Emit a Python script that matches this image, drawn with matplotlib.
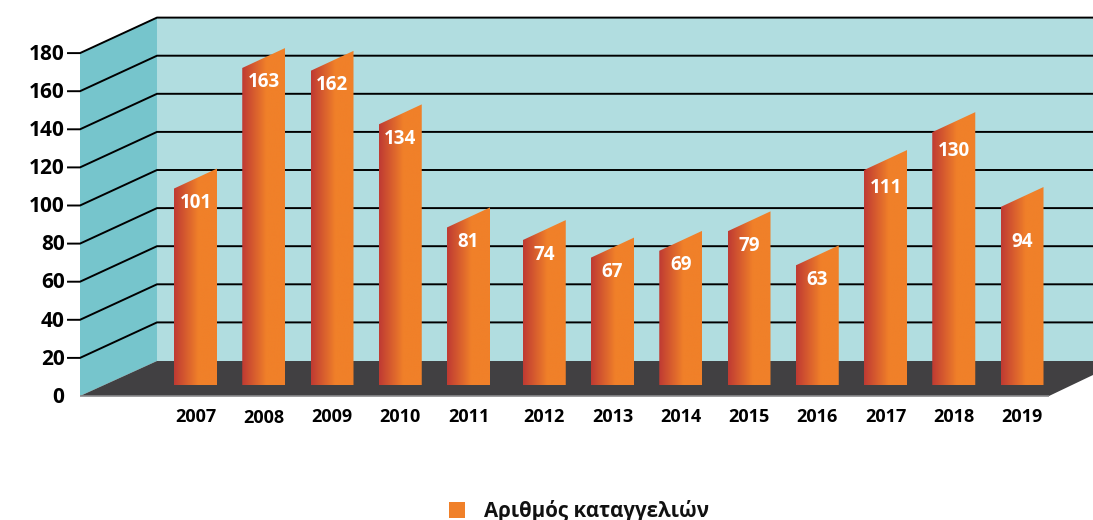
import numpy as np
import matplotlib
matplotlib.use('Agg')
import matplotlib.pyplot as plt
from matplotlib.patches import Polygon, Rectangle

years = ['2007', '2008', '2009', '2010', '2011', '2012', '2013', '2014', '2015', '2016', '2017', '2018', '2019']
complaints = [101, 163, 162, 134, 81, 74, 67, 69, 79, 63, 111, 130, 94]
# height the bars are really drawn at, a bit off from their labels in places
drawn_heights = [101, 163, 161.5, 134, 81, 74.5, 65.5, 69, 79, 61.5, 110.5, 130, 91.5]
y_ticks = [0, 20, 40, 60, 80, 100, 120, 140, 160, 180]
legend_label = 'Αριθμός καταγγελιών'

plt.rcParams['font.family'] = ['Open Sans', 'DejaVu Sans']
W, H = 1093, 520
fig = plt.figure(figsize=(W / 100, H / 100), dpi=100)

# background box, in pixels of the picture
bg = fig.add_axes([0, 0, 1, 1])
bg.set_xlim(0, W)
bg.set_ylim(H, 0)
bg.axis('off')

tick_step = 38.1 / 20
bg.add_patch(Polygon([(157, 17), (W, 17), (W, 361), (157, 361)], color='#b1dde0', lw=0))
bg.add_patch(Polygon([(80, 53), (157, 17), (157, 361), (80, 396)], color='#76c5cc', lw=0))
bg.add_patch(Polygon([(80, 396), (157, 361), (W, 361), (W, 375), (1049, 396)], color='#414042', lw=0))
bg.plot([80, 1049], [396, 396], color='#8a8a8c', lw=1.2, solid_capstyle='butt')

for t in y_ticks:
    front = 396 - t * tick_step
    back = 360.5 - t * tick_step
    if t > 0:
        bg.plot([68, 80, 157, W], [front, front, back, back], color='black', lw=1.4, solid_joinstyle='miter')
    bg.text(64.5, front + 1.3, str(t), ha='right', va='center', fontsize=15, fontweight='bold', color='black')

# bars, x in category steps and y in chart values
bars = fig.add_axes([0, 0, 1, 1], zorder=2)
bars.patch.set_alpha(0)
bars.axis('off')
x_step = 68.25
y_scale = 1.945
base_px = 385

xpos = [i + (0.11 if i >= 5 else 0) for i in range(len(years))]
bar_w = 43 / x_step
rise = 20 / y_scale
label_drop = {'2017': 17.5, '2018': 19, '2019': 35}
year_drop = {'2008': 33}

colors = matplotlib.colors.LinearSegmentedColormap.from_list(
    'bar', [(0, '#bf3a33'), (0.57, '#f08029'), (1, '#f08029')])
gradient = np.linspace(0, 1, 128).reshape(1, -1)

for x, v, h, yr in zip(xpos, complaints, drawn_heights, years):
    left, right = x - bar_w / 2, x + bar_w / 2
    poly = Polygon([(left, 0), (left, h), (right, h + rise), (right, 0)], closed=True,
                   facecolor='none', edgecolor='none', transform=bars.transData)
    bars.add_patch(poly)
    im = bars.imshow(gradient, extent=[left, right, 0, h + rise], cmap=colors, aspect='auto', interpolation='bilinear')
    im.set_clip_path(poly)
    bars.text(x, h - label_drop.get(yr, 14.5) / y_scale, str(v), ha='center', va='center',
              fontsize=13.5, fontweight='bold', color='white')
    bars.text(x, -year_drop.get(yr, 32.5) / y_scale, yr, ha='center', va='center',
              fontsize=13, fontweight='bold', color='black')

bars.set_xlim((-195.5) / x_step, (W - 195.5) / x_step)
bars.set_ylim((base_px - H) / y_scale, base_px / y_scale)

# legend
bg.add_patch(Rectangle((449, 502), 15.5, 16, color='#f08029', lw=0))
bg.text(484, 517, legend_label, ha='left', va='baseline', fontsize=14.8, fontweight='bold', color='#111111')

fig.savefig('out.png', dpi=100)
